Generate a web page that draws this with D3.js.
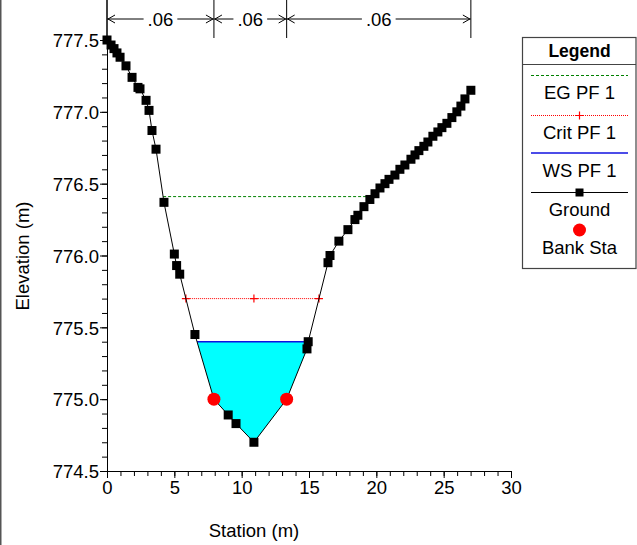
<!DOCTYPE html>
<html><head><meta charset="utf-8">
<script src="https://cdn.jsdelivr.net/npm/d3@7"></script>
<style>body{margin:0;background:#fff}svg{display:block}text{font-family:"Liberation Sans",Arial,sans-serif}</style>
</head><body>
<svg id="c" width="637" height="545"></svg>
<script>
// ---- data ----
const groundSta = [0,0.3,0.52,0.74,0.97,1.41,1.86,2.3,2.45,2.9,3.12,3.34,3.64,4.23,5.0,5.17,5.4,6.53,7.94,9.0,9.58,10.91,13.34,14.85,14.94,16.41,16.56,17.22,17.89,18.41,18.63,19.08,19.52,19.9,20.27,20.64,20.94,21.38,21.75,22.12,22.57,22.87,23.16,23.53,23.83,24.2,24.57,24.87,25.24,25.61,25.98,26.28,26.58,27.02];
const groundElev = [777.5,777.465,777.44,777.41,777.38,777.32,777.24,777.17,777.16,777.08,777.01,776.87,776.74,776.37,776.01,775.93,775.87,775.45,775.0,774.89,774.83,774.70,775.0,775.35,775.40,775.95,776.0,776.10,776.18,776.25,776.28,776.34,776.39,776.43,776.47,776.50,776.53,776.56,776.60,776.63,776.67,776.70,776.73,776.76,776.79,776.83,776.86,776.89,776.92,776.96,777.0,777.04,777.09,777.15];
const bankSta = [7.94, 13.34];
const bankElev = [775.0, 775.0];
const wsElev = 775.40;
const critElev = 775.70;
const egElev = 776.41;
const nSta = [0, 7.94, 13.34, 27.02];
const nVal = [".06", ".06", ".06"];
const xTicks = [0,5,10,15,20,25,30];
const yTicks = [774.5,775.0,775.5,776.0,776.5,777.0,777.5];
const legendItems = ["EG PF 1","Crit PF 1","WS PF 1","Ground","Bank Sta"];

const svg = d3.select("#c");
const x = d3.scaleLinear().domain([0,30]).range([107,511]);
const y = d3.scaleLinear().domain([774.5,777.5]).range([471,40]);
const FS = "18.5px";

// left frame line
svg.append("line").attr("x1",0.75).attr("x2",0.75).attr("y1",0).attr("y2",545).attr("stroke","#555").attr("stroke-width",1.5);

const ground = groundSta.map((s,i)=>({s, e: groundElev[i]}));

function crossings(level){
  const out=[];
  for(let i=0;i<ground.length-1;i++){
    const a=ground[i], b=ground[i+1];
    if((a.e-level)*(b.e-level)<=0 && a.e!==b.e){
      out.push(a.s + (level-a.e)/(b.e-a.e)*(b.s-a.s));
    }
  }
  return out;
}
function wetSpan(level){
  const c = crossings(level);
  const minI = d3.minIndex(ground, d=>d.e);
  const thal = ground[minI].s;
  const left = d3.max(c.filter(v=>v<=thal));
  const right = d3.min(c.filter(v=>v>=thal));
  return [left,right,thal];
}

// water fill
{
  const [l,r] = wetSpan(wsElev);
  const pts = [[l,wsElev]];
  ground.forEach(d=>{ if(d.s>l && d.s<r) pts.push([d.s,d.e]); });
  pts.push([r,wsElev]);
  svg.append("path").attr("d", d3.line().x(d=>x(d[0])).y(d=>y(d[1]))(pts)+"Z")
    .attr("fill","#00ffff").attr("stroke","none");
}

// y axis
const yMinor = d3.range(774.5, 777.51, 0.1);
svg.append("g").attr("transform","translate(107,0)")
  .call(d3.axisLeft(y).tickValues(yMinor).tickSize(5).tickFormat(""))
  .call(g=>g.select(".domain").remove())
  .selectAll("line").attr("stroke","#000");
const ya = svg.append("g").attr("transform","translate(107,0)")
  .call(d3.axisLeft(y).tickValues(yTicks).tickSize(7).tickSizeOuter(0).tickFormat(d3.format(".1f")));
ya.selectAll("text").attr("font-size",FS).attr("font-family","Liberation Sans, Arial").attr("fill","#000").attr("x",-8).attr("dy","0.36em");
ya.select(".domain").attr("stroke","#000");

// x axis
const xMinor = d3.range(0,31,1);
svg.append("g").attr("transform","translate(0,471)")
  .call(d3.axisBottom(x).tickValues(xMinor).tickSize(5).tickFormat(""))
  .call(g=>g.select(".domain").remove())
  .selectAll("line").attr("stroke","#000");
const xa = svg.append("g").attr("transform","translate(0,471)")
  .call(d3.axisBottom(x).tickValues(xTicks).tickSize(7).tickSizeOuter(0));
xa.selectAll("text").attr("font-size",FS).attr("font-family","Liberation Sans, Arial").attr("fill","#000").attr("y",10);
xa.select(".domain").attr("stroke","#000");

// axis titles
svg.append("text").attr("x",254).attr("y",537).attr("text-anchor","middle").attr("font-size",FS).text("Station (m)");
svg.append("text").attr("transform","translate(29,256) rotate(-90)").attr("text-anchor","middle").attr("font-size",FS).text("Elevation (m)");

// n values at top
svg.append("line").attr("x1",107).attr("x2",107).attr("y1",0).attr("y2",40).attr("stroke","#000");
nSta.forEach(s=>{
  svg.append("line").attr("x1",x(s)).attr("x2",x(s)).attr("y1",0).attr("y2",38).attr("stroke","#000");
});
const ay = 19;
for(let i=0;i<nVal.length;i++){
  const x1 = x(nSta[i]), x2 = x(nSta[i+1]);
  const g = svg.append("g");
  g.append("line").attr("x1",x1).attr("x2",x2).attr("y1",ay).attr("y2",ay).attr("stroke","#000");
  g.append("path").attr("d",`M${x1+8},${ay-4}L${x1+1},${ay}L${x1+8},${ay+4}`).attr("fill","none").attr("stroke","#000");
  g.append("path").attr("d",`M${x2-8},${ay-4}L${x2-1},${ay}L${x2-8},${ay+4}`).attr("fill","none").attr("stroke","#000");
  const t = g.append("text").attr("x",(x1+x2)/2).attr("y",ay).attr("dy","0.36em").attr("text-anchor","middle").attr("font-size",FS).text(nVal[i]);
  const bb = t.node().getBBox();
  g.insert("rect","text").attr("x",bb.x-4).attr("y",ay-3).attr("width",bb.width+8).attr("height",6).attr("fill","#fff");
}

// EG line
{
  const [l,r] = wetSpan(egElev);
  svg.append("line").attr("x1",x(l)).attr("x2",x(r)).attr("y1",y(egElev)).attr("y2",y(egElev))
    .attr("stroke","#008000").attr("stroke-dasharray","3,2");
}
// Crit line
{
  const [l,r,th] = wetSpan(critElev);
  svg.append("line").attr("x1",x(l)).attr("x2",x(r)).attr("y1",y(critElev)).attr("y2",y(critElev))
    .attr("stroke","#ff0000").attr("stroke-dasharray","1,1");
  [l,th,r].forEach(s=>{
    svg.append("path").attr("d",`M${x(s)-4},${y(critElev)}h8M${x(s)},${y(critElev)-4}v8`).attr("stroke","#ff0000").attr("stroke-width",1.2);
  });
}
// WS line
{
  const [l,r] = wetSpan(wsElev);
  svg.append("line").attr("x1",x(l)).attr("x2",x(r)).attr("y1",y(wsElev)).attr("y2",y(wsElev))
    .attr("stroke","#1010e0").attr("stroke-width",1.5);
}

// ground
svg.append("path").datum(ground).attr("d",d3.line().x(d=>x(d.s)).y(d=>y(d.e)))
  .attr("fill","none").attr("stroke","#000").attr("stroke-width",1);
svg.selectAll("rect.gm").data(ground).join("rect").attr("class","gm")
  .attr("x",d=>x(d.s)-4.5).attr("y",d=>y(d.e)-4.5).attr("width",9).attr("height",9).attr("fill","#000");

// bank stations
svg.selectAll("circle.bank").data(bankSta).join("circle").attr("class","bank")
  .attr("cx",d=>x(d)).attr("cy",(d,i)=>y(bankElev[i])).attr("r",6.5).attr("fill","#ff0000");

// legend
const L = svg.append("g");
L.append("rect").attr("x",522.5).attr("y",37.5).attr("width",113.5).attr("height",231).attr("fill","#fff").attr("stroke","#444").attr("stroke-width",1.2);
L.append("line").attr("x1",522.5).attr("x2",636).attr("y1",64.5).attr("y2",64.5).attr("stroke","#444").attr("stroke-width",1.2);
const lc = 579.5;
L.append("text").attr("x",lc).attr("y",57).attr("text-anchor","middle").attr("font-size","17.5px").attr("font-weight","bold").text("Legend");
// EG
L.append("line").attr("x1",531).attr("x2",628).attr("y1",75.5).attr("y2",75.5).attr("stroke","#008000").attr("stroke-width",1.2).attr("stroke-dasharray","3,2");
L.append("text").attr("x",lc).attr("y",99).attr("text-anchor","middle").attr("font-size",FS).text(legendItems[0]);
// Crit
L.append("line").attr("x1",531).attr("x2",628).attr("y1",115.5).attr("y2",115.5).attr("stroke","#ff0000").attr("stroke-dasharray","1,1");
L.append("path").attr("d",`M${lc-4},115.5h8M${lc},111.5v8`).attr("stroke","#ff0000").attr("stroke-width",1.2);
L.append("text").attr("x",lc).attr("y",139).attr("text-anchor","middle").attr("font-size",FS).text(legendItems[1]);
// WS
L.append("line").attr("x1",531).attr("x2",628).attr("y1",153).attr("y2",153).attr("stroke","#1010e0").attr("stroke-width",1.5);
L.append("text").attr("x",lc).attr("y",177).attr("text-anchor","middle").attr("font-size",FS).text(legendItems[2]);
// Ground
L.append("line").attr("x1",531).attr("x2",628).attr("y1",192.5).attr("y2",192.5).attr("stroke","#000");
L.append("rect").attr("x",lc-4).attr("y",188.5).attr("width",8).attr("height",8).attr("fill","#000");
L.append("text").attr("x",lc).attr("y",216).attr("text-anchor","middle").attr("font-size",FS).text(legendItems[3]);
// Bank
L.append("circle").attr("cx",lc).attr("cy",230).attr("r",6.5).attr("fill","#ff0000");
L.append("text").attr("x",lc).attr("y",254).attr("text-anchor","middle").attr("font-size",FS).text(legendItems[4]);
</script>
</body></html>
